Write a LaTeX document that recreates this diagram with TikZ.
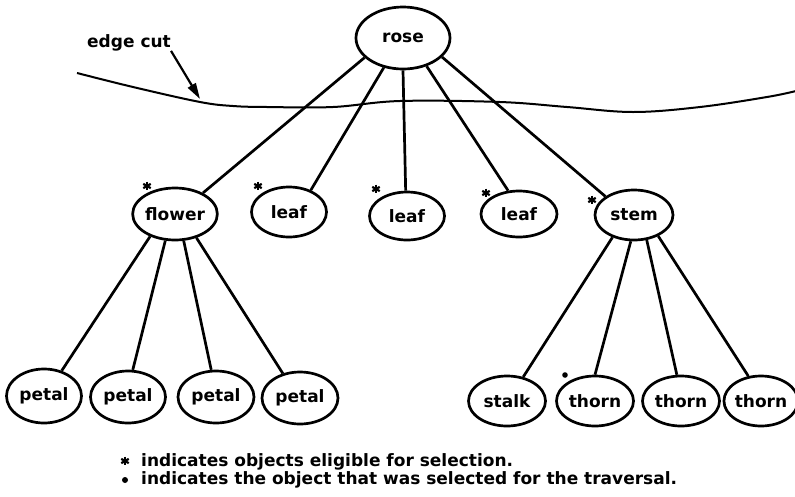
\documentclass[tikz,border=0pt]{standalone}
\usepackage{fontspec}
\setmainfont{DejaVu Sans}
\usetikzlibrary{shapes.geometric,arrows.meta}

\tikzset{
  obj/.style={ellipse, draw, line width=2.7pt, inner sep=0pt,
              minimum width=75pt, minimum height=50pt,
              font=\fontsize{17}{20}\bfseries\selectfont},
  link/.style={line width=2.7pt},
  lbl/.style={inner sep=0pt, font=\fontsize{17}{20}\bfseries\selectfont},
  asterisk/.pic={
    \foreach \a in {90,30,150}
      \draw[line width=2.2pt] (\a:4.3pt) -- (\a+180:4.3pt);
  }
}

\begin{document}
\begin{tikzpicture}[x=1pt, y=-1pt]
\useasboundingbox (0,0) rectangle (795,496);

% root
\node[obj, minimum width=94pt, minimum height=62pt] (rose) at (403,38) {rose};

% second level
\node[obj, minimum width=74pt, minimum height=52pt] (flower) at (175,214) {flower};
\node[obj] (leafA) at (289,212) {leaf};
\node[obj, minimum height=48pt] (leafB) at (407,216) {leaf};
\node[obj, minimum width=76pt, minimum height=46pt] (leafC) at (519,214) {leaf};
\node[obj, minimum width=78pt] (stem) at (634,215) {stem};

% leaves of the tree
\node[obj, minimum height=54pt] (petalA) at (44,396) {petal};
\node[obj, minimum height=52pt] (petalB) at (128,397) {petal};
\node[obj, minimum width=76pt, minimum height=52pt] (petalC) at (216,397) {petal};
\node[obj, minimum width=76pt, minimum height=52pt] (petalD) at (300,398) {petal};
\node[obj, minimum width=77pt] (stalk) at (507,401) {stalk};
\node[obj, minimum width=77pt] (thornA) at (595,401) {thorn};
\node[obj, minimum width=77pt] (thornB) at (681,401) {thorn};
\node[obj, minimum width=72pt] (thornC) at (761,401) {thorn};

% edges from the root
\draw[link] (rose.207) -- (flower.37);
\draw[link] (rose.237) -- (leafA.45);
\draw[link] (rose.270) -- (leafB.93);
\draw[link] (rose.310) -- (leafC.115);
\draw[link] (rose.334) -- (stem.147);

% flower's children
\draw[link] (flower.222) -- (petalA.55);
\draw[link] (flower.250) -- (petalB.80);
\draw[link] (flower.288) -- (petalC.100);
\draw[link] (flower.312) -- (petalD.125);

% stem's children
\draw[link] (stem.226) -- (stalk.56);
\draw[link] (stem.263) -- (thornA.90);
\draw[link] (stem.297) -- (thornB.99);
\draw[link] (stem.319) -- (thornC.117);

% eligibility marks and the selected object
\pic at (147,186) {asterisk};
\pic at (258,186) {asterisk};
\pic at (376,189) {asterisk};
\pic at (486,193) {asterisk};
\pic at (592,200) {asterisk};
\fill (565,375) circle (2.8pt);

% the edge cut
\draw[line width=2pt] plot[smooth, tension=0.6] coordinates {
  (77,73) (133,87) (200,102) (233,106) (267,107) (333,107) (400,101)
  (500,102) (567,107) (633,112) (700,107) (767,97) (796,91)};
\node[lbl, anchor=base west] (cutlbl) at (87,47) {edge cut};
\coordinate (cuttip) at (200,99);
\draw[line width=2.2pt, -{Triangle[length=16pt,width=9pt]}]
  (cutlbl.south east) -- (cuttip);

% legend
\pic at (125,461) {asterisk};
\node[lbl, anchor=base west] (legA) at (141,466)
  {indicates objects eligible for selection.};
\fill (125,480) circle (3pt);
\node[lbl, anchor=base west] (legB) at (141,484)
  {indicates the object that was selected for the traversal.};
\end{tikzpicture}
\end{document}
